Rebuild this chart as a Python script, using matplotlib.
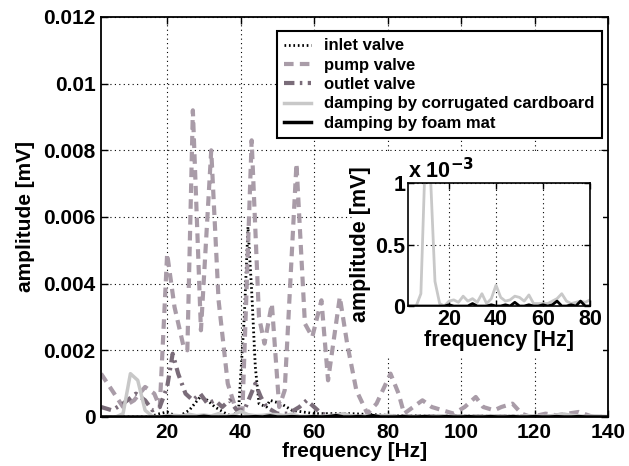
import matplotlib
matplotlib.use('Agg')
import matplotlib.pyplot as plt
from matplotlib.patches import Rectangle
import numpy as np

plt.rcParams['font.family'] = ['Liberation Sans', 'DejaVu Sans']
plt.rcParams['font.weight'] = 'bold'
plt.rcParams['font.size'] = 15

# pump valve (dashed) - vertices
pump_f = [2, 5, 8, 11, 14, 16.5, 18, 20, 22, 24.5, 25.5, 27, 29.2, 32, 34, 36.5, 38.5, 40.5, 43,
          45, 46.5, 48.5, 50.5, 52, 55.2, 57.5, 59.5, 62, 63.8, 67, 69, 71.5, 74.5, 77, 80.8,
          83, 84.5, 87, 89.5, 92, 95, 98, 101, 104, 106, 109, 111, 114, 116.5, 119, 123, 126,
          129, 132, 136, 140]
pump_a = [0.0013, 0.0008, 0.0003, 0.0005, 0.0009, 0.0007, 0.0003, 0.0049, 0.0033, 0.0021, 0.0020,
          0.0092, 0.0026, 0.0080, 0.0035, 0.0010, 0.0003, 0.0002, 0.0083,
          0.0030, 0.0022, 0.0034, 0.0003, 0.0008, 0.0076, 0.0028, 0.0024, 0.0035, 0.0011, 0.0036,
          0.0022, 0.0008, 0.0001, 0.0004, 0.0013,
          0.0007, 0.0001, 0.0003, 0.0005, 0.0003, 0.0002, 0.0001, 0.0003, 0.0006, 0.0003, 0.0002,
          0.0003, 0.0004, 0.0001, 0.0, 0.0001, 0.00005,
          0.0001, 0.00015, 0.0, 0.0]

# inlet valve (dotted)
inlet_f = [2, 10, 15, 18, 20, 23, 26, 29, 31, 33, 36, 38, 39.5, 41, 42, 43, 44, 45, 47, 48,
           51, 54, 60, 70, 80, 100, 120, 140]
inlet_a = [0.0, 0.0, 0.0, 0.0001, 0.00015, 0.0, 0.0002, 0.0006, 0.0005, 0.0003, 0.0001, 0.0,
           0.0003, 0.0030, 0.0057, 0.0038, 0.0015, 0.0004, 0.0003, 0.0005,
           0.0004, 0.0002, 0.0001, 0.0001, 0.00005, 0.00003, 0.00002, 0.0]

# outlet valve (dash-dot)
outlet_f = [2, 5, 8, 11.5, 14, 16, 18, 20, 21.5, 23, 25, 27, 29, 31, 33, 35, 37, 39, 41, 42.5,
            44, 45.5, 47, 50, 53, 56, 58, 60, 62, 66, 80, 100, 120, 140]
outlet_a = [0.0003, 0.0002, 0.0004, 0.0007, 0.0005, 0.0002, 0.0003, 0.0009, 0.0019, 0.0013,
            0.0007, 0.0005, 0.0007, 0.0004, 0.0005, 0.0003, 0.0005, 0.0002, 0.0002, 0.0006,
            0.0010, 0.0006, 0.0003, 0.0001, 0.0001, 0.0003, 0.0005, 0.0003, 0.0001, 0.0,
            0.00002, 0.00001, 0.00001, 0.0]

# damping measurements, 2 Hz grid
damp_f = np.arange(2, 141, 2)
cardboard_a = [0.0, 0.0, 0.0, 0.0001, 0.0013, 0.0011, 0.0002, 0.00002, 0.0, 0.00004,
               0.00005, 0.00003, 0.00008, 0.00004, 0.00006, 0.00003, 0.0001, 0.00002, 0.00006, 0.00017,
               0.00007, 0.00004, 0.00005, 0.00008, 0.00007, 0.00004, 0.00009, 0.00002, 0.00002, 0.00002,
               0.00002, 0.00004, 0.00006, 0.0001, 0.00004, 0.00002, 0.00003, 0.00004, 0.00003, 0.00005,
               0.00003, 0.00002, 0.00003, 0.00002, 0.00003, 0.00002, 0.00004, 0.00003, 0.00002, 0.00003,
               0.00002, 0.00003, 0.00002, 0.00004, 0.00003, 0.00002, 0.00003, 0.00002, 0.00004, 0.00003,
               0.00002, 0.00003, 0.00006, 0.00009, 0.00005, 0.00003, 0.00002, 0.00003, 0.00002, 0.00001]
foam_a = [0.0, 0.0, 0.0, 0.0, 0.0, 0.0, 0.0, 0.0, 0.0, 0.00001,
          0.0, 0.0, 0.0, 0.0, 0.00002, 0.0, 0.0, 0.0, 0.00001, 0.0,
          0.0, 0.00001, 0.0, 0.00003, 0.0, 0.0, 0.00001, 0.0, 0.0, 0.00001,
          0.0, 0.00001, 0.00004, 0.0, 0.0, 0.00001, 0.0, 0.00004, 0.0, 0.0,
          0.0, 0.00001, 0.0, 0.0, 0.00001, 0.0, 0.0, 0.00001, 0.0, 0.0,
          0.00001, 0.0, 0.0, 0.00001, 0.0, 0.0, 0.00001, 0.0, 0.0, 0.00001,
          0.0, 0.0, 0.00001, 0.0, 0.0, 0.00001, 0.0, 0.0, 0.0, 0.0]

labels = ['inlet valve', 'pump valve', 'outlet valve',
          'damping by corrugated cardboard', 'damping by foam mat']

c_pump = '#a99ca8'
c_outlet = '#7a6c79'
c_card = '#c8c8c8'

ls_pump = (0, (2.3, 1.5))
ls_inlet = (0, (0.6, 1.0))
ls_outlet = (0, (2.5, 1.3, 0.6, 1.3))

fig = plt.figure(figsize=(6.29, 4.66), dpi=100)
ax = fig.add_axes([0.1606, 0.1052, 0.806, 0.8584])

ax.plot(inlet_f, inlet_a, color='black', lw=2, ls=ls_inlet, label=labels[0])
ax.plot(pump_f, pump_a, color=c_pump, lw=3, ls=ls_pump, label=labels[1])
ax.plot(outlet_f, outlet_a, color=c_outlet, lw=3, ls=ls_outlet, label=labels[2])
ax.plot(damp_f, cardboard_a, color=c_card, lw=2.5, label=labels[3])
ax.plot(damp_f, foam_a, color='black', lw=2.5, label=labels[4])

ax.set_xlim(2, 140)
ax.set_ylim(0, 0.012)
ax.set_xticks([20, 40, 60, 80, 100, 120, 140])
ax.set_yticks([0, 0.002, 0.004, 0.006, 0.008, 0.01, 0.012])
ax.set_yticklabels(['0', '0.002', '0.004', '0.006', '0.008', '0.01', '0.012'])
ax.tick_params(direction='in', top=True, right=True, length=5, width=1, labelsize=15, pad=4)
ax.grid(True, color='black', ls=(0, (1, 3)), lw=0.8)
for s in ax.spines.values():
    s.set_linewidth(1.3)
ax.set_xlabel('frequency [Hz]', fontsize=15, fontweight='bold', labelpad=0)
ax.set_ylabel('amplitude [mV]', fontsize=15, fontweight='bold', labelpad=6)

leg = ax.legend(loc='upper right', bbox_to_anchor=(0.988, 0.965), fontsize=12,
                fancybox=False, framealpha=1, edgecolor='black', handlelength=1.6,
                handletextpad=0.8, labelspacing=0.26, borderpad=0.45, borderaxespad=0)
leg.get_frame().set_linewidth(1.5)

# white area behind the inset
ax.add_patch(Rectangle((0.5612, 0.2361), 0.3975, 0.4399, transform=fig.transFigure,
                       facecolor='white', edgecolor='none', zorder=4, clip_on=False))

# inset, amplitudes shown in units of 1e-3
ins = fig.add_axes([0.6486, 0.3433, 0.2893, 0.264])
ins.plot(damp_f, np.array(cardboard_a) * 1e3, color=c_card, lw=2)
ins.plot(damp_f, np.array(foam_a) * 1e3, color='black', lw=2)
ins.set_xlim(2.5, 80)
ins.set_ylim(0, 1)
ins.set_xticks([20, 40, 60, 80])
ins.set_yticks([0, 0.5, 1])
ins.set_yticklabels(['0', '0.5', '1'])
ins.tick_params(direction='in', top=True, right=True, length=4, width=1, labelsize=15.5, pad=2)
ins.grid(True, color='black', ls=(0, (1, 3)), lw=0.8)
for s in ins.spines.values():
    s.set_linewidth(1.2)
ins.set_xlabel('frequency [Hz]', fontsize=15.5, fontweight='bold', labelpad=0)
ins.set_ylabel('amplitude [mV]', fontsize=15.5, fontweight='bold', labelpad=3)
ins.text(0.0, 1.0, r'x 10$^{\mathbf{-3}}$', transform=ins.transAxes, fontsize=15.5,
         fontweight='bold', ha='left', va='bottom')

fig.savefig('out.png', dpi=100)
